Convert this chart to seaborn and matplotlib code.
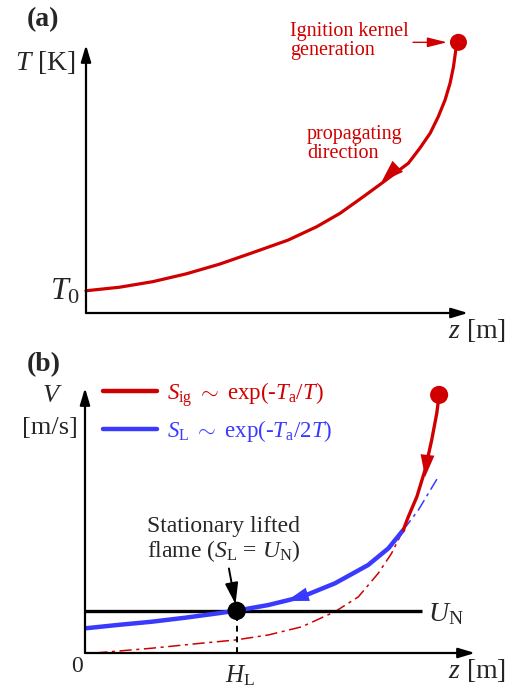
import matplotlib
matplotlib.use("Agg")
import matplotlib.pyplot as plt
import seaborn as sns
import pandas as pd
from matplotlib.lines import Line2D

# ---------------- data (normalised) ----------------
# panel (a): temperature along z
z_a = [0.000, 0.087, 0.175, 0.262, 0.349, 0.436, 0.529, 0.604, 0.665, 0.726,
       0.774, 0.844, 0.874, 0.901, 0.922, 0.940, 0.953, 0.962, 0.968, 0.975]
T_a = [0.083, 0.096, 0.117, 0.146, 0.182, 0.225, 0.272, 0.322, 0.372, 0.434,
       0.484, 0.559, 0.615, 0.671, 0.732, 0.795, 0.857, 0.919, 0.981, 1.010]
kernel_a = (0.975, 1.010)

# panel (b): velocities along z
z_SL = [0.000, 0.085, 0.171, 0.256, 0.342, 0.389, 0.470, 0.556, 0.641, 0.726, 0.778, 0.816]
v_SL = [0.093, 0.106, 0.118, 0.133, 0.150, 0.160, 0.181, 0.212, 0.263, 0.332, 0.395, 0.464]
z_SL_ext = [0.816, 0.855, 0.906]
v_SL_ext = [0.464, 0.540, 0.665]
z_Sig = [0.908, 0.902, 0.889, 0.872, 0.851, 0.829, 0.816]
v_Sig = [0.974, 0.905, 0.804, 0.691, 0.590, 0.514, 0.464]
z_Sig_ext = [0.026, 0.171, 0.299, 0.385, 0.470, 0.556, 0.641, 0.701, 0.752, 0.786, 0.816]
v_Sig_ext = [0.000, 0.018, 0.037, 0.049, 0.068, 0.099, 0.156, 0.212, 0.301, 0.376, 0.464]
kernel_b = (0.908, 0.974)
U_N = 0.159
U_N_end = 0.864
H_L = 0.389

RED = "#d00000"
BLUE = "#3a3aff"

sns.set_style("white")
plt.rcParams["font.family"] = ["Liberation Serif", "DejaVu Serif"]
plt.rcParams["mathtext.fontset"] = "custom"
plt.rcParams["mathtext.rm"] = "Liberation Serif"
plt.rcParams["mathtext.it"] = "Liberation Serif:italic"
plt.rcParams["mathtext.bf"] = "Liberation Serif:bold"

W, H = 521, 689
fig = plt.figure(figsize=(W / 100, H / 100), dpi=100)


def box(l, t, r, b):
    return [l / W, 1 - b / H, (r - l) / W, (b - t) / H]


def ftext(x, y, s, **kw):
    kw.setdefault("va", "center")
    kw.setdefault("ha", "left")
    fig.text(x / W, 1 - y / H, s, **kw)


axa = fig.add_axes(box(86, 45, 468, 313))
axb = fig.add_axes(box(85, 388, 475, 653))
for ax in (axa, axb):
    ax.set_xlim(0, 1)
    ax.set_ylim(0, 1)
    for s in ax.spines.values():
        s.set_visible(False)
    ax.set_xticks([])
    ax.set_yticks([])
    ax.patch.set_alpha(0)
    ap = dict(arrowstyle="-|>,head_length=1.0,head_width=0.3", lw=1.6,
              color="black", shrinkA=0, shrinkB=0, mutation_scale=10)
    ax.annotate("", xy=(1, 0), xytext=(0, 0), xycoords="axes fraction", arrowprops=ap)
    ax.annotate("", xy=(0, 1), xytext=(0, 0), xycoords="axes fraction", arrowprops=ap)

# ---------------- panel (a) ----------------
sns.lineplot(x=z_a, y=T_a, sort=False, color=RED, lw=2.3, ax=axa, clip_on=False)
sns.scatterplot(x=[kernel_a[0]], y=[kernel_a[1]], color=RED, s=150, ax=axa,
                clip_on=False, edgecolor="none", zorder=5)
axa.annotate("", xy=(0.774, 0.490), xytext=(0.827, 0.562),
             arrowprops=dict(arrowstyle="-|>,head_length=1.6,head_width=0.55",
                             color=RED, lw=0, shrinkA=0, shrinkB=0, mutation_scale=10))
axa.annotate("", xy=(0.945, 1.010), xytext=(0.856, 1.010), annotation_clip=False,
             arrowprops=dict(arrowstyle="-|>,head_length=1.2,head_width=0.3",
                             color=RED, lw=1.0, shrinkA=0, shrinkB=0, mutation_scale=10))

ftext(27, 20, "(a)", fontsize=20, fontweight="bold")
ftext(15, 62, r"$T$ [K]", fontsize=20)
ftext(50, 292, r"$T_\mathrm{0}$", fontsize=23)
ftext(448, 331, r"$z$ [m]", fontsize=20)
ftext(290, 41, "Ignition kernel\ngeneration", fontsize=14.5, color=RED, linespacing=1.05)
ftext(307, 144, "propagating\ndirection", fontsize=14.5, color=RED, linespacing=1.05)

# ---------------- panel (b) ----------------
sns.lineplot(x=z_Sig_ext, y=v_Sig_ext, sort=False, color=RED, lw=1.1, ax=axb,
             linestyle=(0, (8, 3, 2, 3)))
sns.lineplot(x=z_SL_ext, y=v_SL_ext, sort=False, color=BLUE, lw=1.1, ax=axb,
             linestyle=(0, (8, 3, 2, 3)))
axb.plot([0, U_N_end], [U_N, U_N], color="black", lw=2.4, solid_capstyle="butt")
axb.plot([H_L, H_L], [0, U_N], color="black", lw=1.4, linestyle=(0, (3, 2.5)))
sns.lineplot(x=z_SL, y=v_SL, sort=False, color=BLUE, lw=3.2, ax=axb)
sns.lineplot(x=z_Sig, y=v_Sig, sort=False, color=RED, lw=2.4, ax=axb)
sns.scatterplot(x=[kernel_b[0]], y=[kernel_b[1]], color=RED, s=170, ax=axb,
                clip_on=False, edgecolor="none", zorder=5)
sns.scatterplot(x=[H_L], y=[U_N], color="black", s=175, ax=axb,
                edgecolor="none", zorder=6)
axb.annotate("", xy=(0.872, 0.664), xytext=(0.879, 0.758),
             arrowprops=dict(arrowstyle="-|>,head_length=1.6,head_width=0.5",
                             color=RED, lw=0, shrinkA=0, shrinkB=0, mutation_scale=10))
axb.annotate("", xy=(0.517, 0.196), xytext=(0.585, 0.228),
             arrowprops=dict(arrowstyle="-|>,head_length=1.6,head_width=0.5",
                             color=BLUE, lw=0, shrinkA=0, shrinkB=0, mutation_scale=10))
axb.annotate("", xy=(H_L - 0.003, U_N + 0.025), xytext=(H_L - 0.02, U_N + 0.16),
             arrowprops=dict(arrowstyle="-|>,head_length=1.3,head_width=0.4",
                             color="black", lw=1.4, shrinkA=0, shrinkB=0, mutation_scale=10))

handles = [Line2D([], [], color=RED, lw=3.2), Line2D([], [], color=BLUE, lw=3.2)]
labels = [r"$S_\mathrm{ig}$ $\sim$ exp(-$T_\mathrm{a}$/$T$)",
          r"$S_\mathrm{L}$ $\sim$ exp(-$T_\mathrm{a}$/2$T$)"]
axb.legend(handles, labels, loc="upper left", bbox_to_anchor=(103 / W, 1 - 380 / H),
           bbox_transform=fig.transFigure, frameon=False, fontsize=16.5,
           handlelength=2.35, handletextpad=0.45, labelspacing=0.42,
           borderpad=0, borderaxespad=0, labelcolor=[RED, BLUE])

ftext(27, 365, "(b)", fontsize=20, fontweight="bold")
ftext(52, 396, r"$V$", fontsize=19, ha="center")
ftext(50, 428, "[m/s]", fontsize=19, ha="center")
ftext(147, 540, "Stationary lifted\nflame ($S_\\mathrm{L}$ = $U_\\mathrm{N}$)",
      fontsize=17, linespacing=1.05)
ftext(428, 614, r"$U_\mathrm{N}$", fontsize=20)
ftext(77, 666, "0", fontsize=17, ha="center")
ftext(240, 676, r"$H_\mathrm{L}$", fontsize=18, ha="center")
ftext(448, 670, r"$z$ [m]", fontsize=20)

fig.savefig("out.png", dpi=100)
